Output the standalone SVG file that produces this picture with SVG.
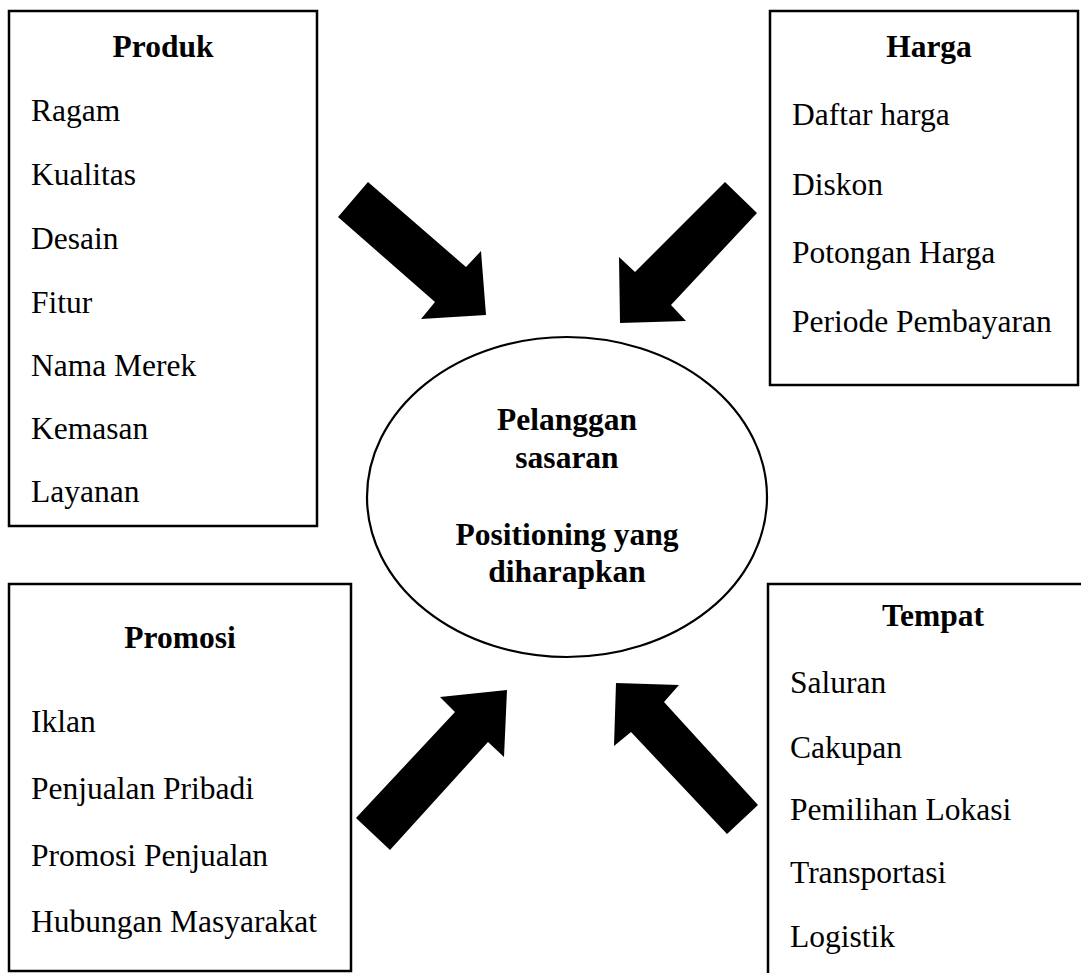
<svg xmlns="http://www.w3.org/2000/svg" width="1081" height="973" viewBox="0 0 1081 973">
<style>
.box{fill:#fff;stroke:#000;stroke-width:2.5}
.ttl{font-family:"Liberation Serif","Times New Roman",serif;font-size:31.5px;font-weight:bold;text-anchor:middle;fill:#000}
.itm{font-family:"Liberation Serif","Times New Roman",serif;font-size:31.5px;fill:#000}
.arr{fill:#000;stroke:none}
</style>
<rect width="1081" height="973" fill="#fff"/>
<g id="produk">
<rect class="box" x="9" y="11" width="308" height="515"/>
<text class="ttl" x="163" y="57">Produk</text>
<text class="itm" x="31" y="121">Ragam</text>
<text class="itm" x="31" y="185">Kualitas</text>
<text class="itm" x="31" y="249">Desain</text>
<text class="itm" x="31" y="313">Fitur</text>
<text class="itm" x="31" y="376">Nama Merek</text>
<text class="itm" x="31" y="439">Kemasan</text>
<text class="itm" x="31" y="502">Layanan</text>
</g>
<g id="harga">
<rect class="box" x="770" y="11" width="308" height="374"/>
<text class="ttl" x="929" y="57">Harga</text>
<text class="itm" x="792" y="125">Daftar harga</text>
<text class="itm" x="792" y="195">Diskon</text>
<text class="itm" x="792" y="263">Potongan Harga</text>
<text class="itm" x="792" y="332">Periode Pembayaran</text>
</g>
<g id="center">
<ellipse cx="567" cy="497" rx="200" ry="160" fill="#fff" stroke="#000" stroke-width="2.2"/>
<text class="ttl" x="567" y="430">Pelanggan</text>
<text class="ttl" x="567" y="468">sasaran</text>
<text class="ttl" x="567" y="545">Positioning yang</text>
<text class="ttl" x="567" y="582">diharapkan</text>
</g>
<g id="promosi">
<rect class="box" x="9" y="584" width="342" height="387"/>
<text class="ttl" x="180" y="648">Promosi</text>
<text class="itm" x="31" y="732">Iklan</text>
<text class="itm" x="31" y="799">Penjualan Pribadi</text>
<text class="itm" x="31" y="866">Promosi Penjualan</text>
<text class="itm" x="31" y="932">Hubungan Masyarakat</text>
</g>
<g id="tempat">
<path d="M768,990 V584 H1090" fill="none" stroke="#000" stroke-width="2.5"/>
<text class="ttl" x="933" y="626">Tempat</text>
<text class="itm" x="790" y="693">Saluran</text>
<text class="itm" x="790" y="758">Cakupan</text>
<text class="itm" x="790" y="820">Pemilihan Lokasi</text>
<text class="itm" x="790" y="883">Transportasi</text>
<text class="itm" x="790" y="947">Logistik</text>
</g>
<g id="connectors">
<polygon class="arr" points="368,182 466,267 481,251 486,315 421,319 435,302 338,217"/>
<polygon class="arr" points="725,182 635,272 619,257 620,323 686,321 671,305 757,213"/>
<polygon class="arr" points="356,818 455,712 440,697 507,690 504,757 488,742 390,850"/>
<polygon class="arr" points="616,683 679,685 664,702 758,805 727,834 631,732 614,746"/>
</g>
</svg>
